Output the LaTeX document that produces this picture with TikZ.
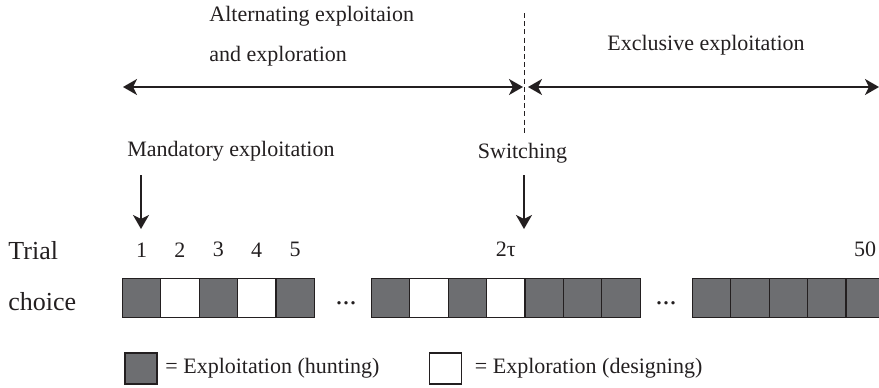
\documentclass[tikz,border=0pt]{standalone}
\usepackage{fontspec}
\setmainfont{Liberation Serif}
\usetikzlibrary{positioning,arrows.meta}
\definecolor{huntgray}{RGB}{109,110,113}
\definecolor{inkcol}{RGB}{35,31,32}

\begin{document}
\begin{tikzpicture}[x=0.5pt,y=-0.5pt,>={Stealth[length=7pt,width=8pt,inset=2pt]},draw=inkcol,text=inkcol,
    hunt/.style={draw=inkcol,fill=huntgray,line width=0.6pt,minimum width=19.2pt,minimum height=19.5pt,inner sep=0pt,outer sep=0pt},
    design/.style={hunt,fill=white},
    legbox/.style={hunt,minimum width=16pt,minimum height=15.5pt},
    lbl/.style={font=\fontsize{11}{13}\selectfont,inner sep=0pt},
    side/.style={font=\fontsize{13}{15}\selectfont,inner sep=0pt,anchor=west},
    gap/.style={font=\fontsize{14}{16}\selectfont,inner sep=0pt}]

    \useasboundingbox (0,0) rectangle (879,387);

    % phases
    \node[lbl,anchor=west] (alt1) at (209,16.5) {Alternating exploitaion};
    \node[lbl,anchor=west] (alt2) at (209,56.5) {and exploration};
    \node[lbl] (excl) at (706,45.5) {Exclusive exploitation};

    \coordinate (left) at (123,87);
    \coordinate (sw) at (524,87);
    \coordinate (right) at (879,87);
    \coordinate (dtop) at (524,13);
    \coordinate (dbot) at (524,133);

    \draw[dashed,line width=0.5pt,dash pattern=on 2.5pt off 1.6pt] (dtop) -- (dbot);
    \draw[<->,line width=0.8pt,shorten >=0.5pt] (left) -- (sw);
    \draw[<->,line width=0.8pt,shorten <=2pt] (sw) -- (right);

    % markers
    \node[lbl,anchor=west] (mand) at (127,151.5) {Mandatory exploitation};
    \node[lbl] (swt) at (522.5,153.5) {Switching};
    \coordinate (m1) at (141,175);
    \coordinate (m2) at (141,229);
    \coordinate (s1) at (524,175);
    \coordinate (s2) at (524,229);
    \draw[->,line width=0.8pt] (m1) -- (m2);
    \draw[->,line width=0.8pt] (s1) -- (s2);

    % trials
    \node[side] (trial) at (8,250.5) {Trial};
    \node[side] (choice) at (8,302) {choice};

    \node[hunt] (a1) at (141.5,298) {};
    \node[design] (a2) [right=0pt of a1] {};
    \node[hunt] (a3) [right=0pt of a2] {};
    \node[design] (a4) [right=0pt of a3] {};
    \node[hunt] (a5) [right=0pt of a4] {};
    \node[gap] (dots1) at (346,303) {...};

    \node[hunt] (c1) at (390.5,298) {};
    \node[design] (c2) [right=0pt of c1] {};
    \node[hunt] (c3) [right=0pt of c2] {};
    \node[design] (c4) [right=0pt of c3] {};
    \node[hunt] (c5) [right=0pt of c4] {};
    \node[hunt] (c6) [right=0pt of c5] {};
    \node[hunt] (c7) [right=0pt of c6] {};
    \node[gap] (dots2) at (666,303) {...};

    \node[hunt] (d1) at (711.5,298) {};
    \node[hunt] (d2) [right=0pt of d1] {};
    \node[hunt] (d3) [right=0pt of d2] {};
    \node[hunt] (d4) [right=0pt of d3] {};
    \node[hunt] (d5) [right=0pt of d4] {};

    \node[lbl,above=10.5pt of a1] (n1) {1};
    \node[lbl,above=10.5pt of a2] (n2) {2};
    \node[lbl,above=10.5pt of a3] (n3) {3};
    \node[lbl,above=10.5pt of a4] (n4) {4};
    \node[lbl,above=10.5pt of a5] (n5) {5};
    \node[lbl,above=10.5pt of c4] (ntau) {2τ};
    \node[lbl,above=10.5pt of d5] (n50) {50};

    % legend
    \node[legbox] (leg1) at (141,368.5) {};
    \node[lbl,right=4pt of leg1] (legt1) {= Exploitation (hunting)};
    \node[legbox,fill=white] (leg2) at (445.5,368.5) {};
    \node[lbl,right=6.5pt of leg2] (legt2) {= Exploration (designing)};
\end{tikzpicture}
\end{document}
